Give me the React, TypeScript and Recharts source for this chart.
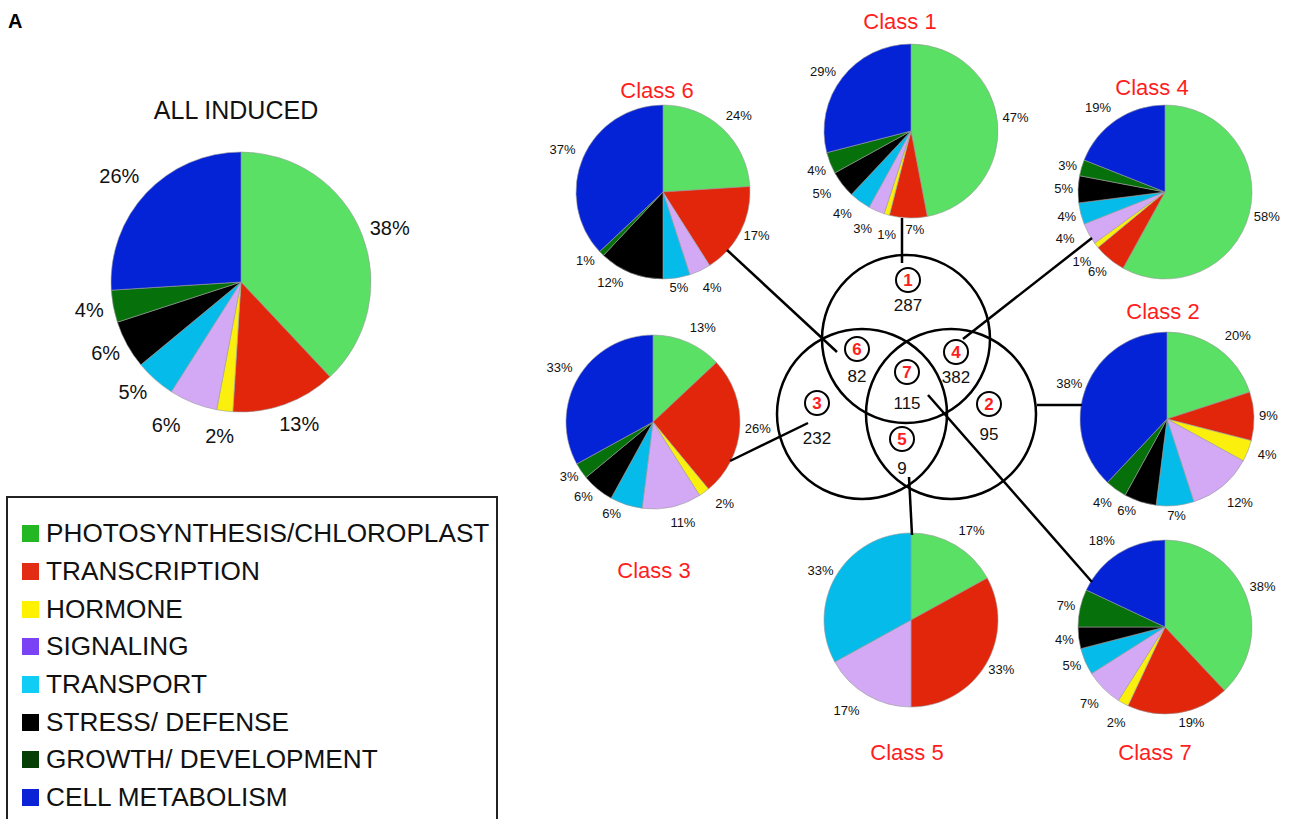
import React from "react";
import { PieChart, Pie, Cell } from "recharts";

const CATEGORIES = [
  "PHOTOSYNTHESIS/CHLOROPLAST",
  "TRANSCRIPTION",
  "HORMONE",
  "SIGNALING",
  "TRANSPORT",
  "STRESS/ DEFENSE",
  "GROWTH/ DEVELOPMENT",
  "CELL METABOLISM",
];

// pie slice fills, one per category
const SLICE_COLORS = ["#59e065", "#e1260b", "#fbef0e", "#d3a9f6", "#05bbea", "#000000", "#06700b", "#0422d6"];
// swatches in the key box
const KEY_COLORS = ["#23b723", "#e22c14", "#fff200", "#7a42f4", "#10cdf5", "#000000", "#063f06", "#0b22d6"];

// percent of genes per category
const allInduced = [38, 13, 2, 6, 5, 6, 4, 26];
const class1 = [47, 7, 1, 3, 4, 5, 4, 29];
const class2 = [20, 9, 4, 12, 7, 6, 4, 38];
const class3 = [13, 26, 2, 11, 6, 6, 3, 33];
const class4 = [58, 6, 1, 4, 4, 5, 3, 19];
const class5 = [17, 33, 0, 17, 33, 0, 0, 0];
const class6 = [24, 17, 0, 4, 5, 12, 1, 37];
const class7 = [38, 19, 2, 7, 5, 4, 7, 18];

// genes per venn region, class 1..7
const classCounts = [287, 95, 232, 382, 9, 82, 115];

const FONT = "'Liberation Sans', Arial, Helvetica, sans-serif";

// per-category label shifts, keyed by category index
type Nudge = Record<number, [number, number]>;

interface PieSpec {
  id: string;
  title: string;
  values: number[];
  cx: number;
  cy: number;
  r: number;
  titleX: number;
  titleY: number;
  nudge: Nudge;
}

const SMALL_R = 87;

const classPies: PieSpec[] = [
  {
    id: "c1", title: "Class 1", values: class1, cx: 911, cy: 131, r: SMALL_R, titleX: 900, titleY: 29,
    nudge: { 0: [0, -4], 1: [7, 2], 2: [4, 11], 3: [-8, 9], 4: [-9, 4], 5: [-9, 3], 6: [0, 4], 7: [-5, 0] },
  },
  {
    id: "c6", title: "Class 6", values: class6, cx: 663, cy: 192, r: SMALL_R, titleX: 657, titleY: 98,
    nudge: { 0: [4, -6], 3: [6, 8], 5: [-14, 1], 6: [-6, 0], 7: [-4, -4] },
  },
  {
    id: "c4", title: "Class 4", values: class4, cx: 1165, cy: 192, r: SMALL_R, titleX: 1152, titleY: 95,
    nudge: { 1: [-3, 5], 2: [-3, 10], 3: [-11, 0], 7: [-8, -5] },
  },
  {
    id: "c3", title: "Class 3", values: class3, cx: 653, cy: 422, r: SMALL_R, titleX: 654, titleY: 578,
    nudge: { 0: [8, -6], 2: [12, 3], 3: [7, 6], 4: [-10, 0], 5: [-5, 0], 7: [-3, -5] },
  },
  {
    id: "c2", title: "Class 2", values: class2, cx: 1167, cy: 419, r: SMALL_R, titleX: 1163, titleY: 319,
    nudge: { 0: [9, -5], 2: [6, 0], 3: [6, 9], 5: [-9, 0], 6: [-5, 5] },
  },
  {
    id: "c5", title: "Class 5", values: class5, cx: 911, cy: 620, r: SMALL_R, titleX: 907, titleY: 760,
    nudge: { 0: [7, -6], 3: [-11, 7] },
  },
  {
    id: "c7", title: "Class 7", values: class7, cx: 1165, cy: 627, r: SMALL_R, titleX: 1155, titleY: 760,
    nudge: { 0: [0, -5], 1: [10, 0], 2: [0, 11], 3: [-4, 8], 7: [-7, -5] },
  },
];

const toData = (values: number[]) =>
  values
    .map((value, cat) => ({ name: CATEGORIES[cat], value, cat }))
    .filter((d) => d.value > 0);

// percent label pushed just outside the rim, offset by half its own box
const makeLabel = (fontSize: number, gap: number, nudge: Nudge) => (props: any) => {
  const { cx, cy, midAngle, outerRadius, value } = props;
  if (!value) return null;
  const cat = props.cat ?? props.payload?.cat;
  const text = `${value}%`;
  const w = ((text.length - 1) * 0.556 + 0.889) * fontSize;
  const h = fontSize * 0.72;
  const rad = (-midAngle * Math.PI) / 180;
  const c = Math.cos(rad);
  const s = Math.sin(rad);
  const [dx, dy] = nudge[cat] ?? [0, 0];
  const x = cx + (outerRadius + gap + w / 2) * c + dx;
  const y = cy + (outerRadius + gap + h / 2) * s + dy;
  return (
    <text x={x} y={y} textAnchor="middle" dominantBaseline="central" fontFamily={FONT} fontSize={fontSize} fill="#111">
      {text}
    </text>
  );
};

// venn circles and the region markers
const vennCircles = [
  { x: 906, y: 339, r: 84 },
  { x: 862, y: 414, r: 85 },
  { x: 951, y: 414, r: 85 },
];
const regionMarks = [
  { x: 908, y: 280, ny: 305 },
  { x: 989, y: 404, ny: 434 },
  { x: 817, y: 403, ny: 438 },
  { x: 956, y: 352, ny: 377 },
  { x: 902, y: 439, ny: 468 },
  { x: 857, y: 349, ny: 376 },
  { x: 907, y: 372, ny: 403 },
];
const connectors = [
  [902, 218, 902, 263],
  [1037, 405, 1082, 405],
  [730, 461, 808, 423],
  [1092, 238, 963, 339],
  [909, 477, 912, 535],
  [727, 250, 837, 352],
  [928, 395, 1092, 582],
];

const W = 1292;
const H = 819;

export default function App() {
  const allData = toData(allInduced);
  return (
    <div style={{ position: "absolute", left: 0, top: 0, width: W, height: H, overflow: "hidden", background: "#fff", fontFamily: FONT }}>
      <PieChart width={W} height={H} margin={{ top: 0, right: 0, bottom: 0, left: 0 }} style={{ position: "absolute", left: 0, top: 0 }}>
        <Pie
          data={allData}
          dataKey="value"
          cx={241}
          cy={282}
          outerRadius={130}
          startAngle={90}
          endAngle={-270}
          stroke="#9a9a9a"
          strokeWidth={0.6}
          labelLine={false}
          label={makeLabel(20, 10, { 1: [4, 4], 2: [-2, 8], 3: [-18, 6], 4: [-6, 0], 7: [-5, -5] })}
          isAnimationActive={false}
        >
          {allData.map((d) => (
            <Cell key={d.cat} fill={SLICE_COLORS[d.cat]} />
          ))}
        </Pie>
        {classPies.map((p) => (
          <Pie
            key={p.id}
            data={toData(p.values)}
            dataKey="value"
            cx={p.cx}
            cy={p.cy}
            outerRadius={p.r}
            startAngle={90}
            endAngle={-270}
            stroke="#9a9a9a"
            strokeWidth={0.6}
            labelLine={false}
            label={makeLabel(13, 5, p.nudge)}
            isAnimationActive={false}
          >
            {toData(p.values).map((d) => (
              <Cell key={d.cat} fill={SLICE_COLORS[d.cat]} />
            ))}
          </Pie>
        ))}
      </PieChart>

      <svg width={W} height={H} style={{ position: "absolute", left: 0, top: 0, pointerEvents: "none" }}>
        <text x={8} y={28} fontFamily={FONT} fontWeight="bold" fontSize={20} fill="#000">A</text>
        <text x={236} y={119} textAnchor="middle" fontFamily={FONT} fontSize={25} fill="#111">ALL INDUCED</text>
        {classPies.map((p) => (
          <text key={p.id} x={p.titleX} y={p.titleY} textAnchor="middle" fontFamily={FONT} fontSize={22} fill="#ff1d1d">
            {p.title}
          </text>
        ))}
        {connectors.map(([x1, y1, x2, y2], i) => (
          <line key={i} x1={x1} y1={y1} x2={x2} y2={y2} stroke="#000" strokeWidth={2.5} />
        ))}
        {vennCircles.map((c, i) => (
          <circle key={i} cx={c.x} cy={c.y} r={c.r} fill="none" stroke="#000" strokeWidth={2.5} />
        ))}
        {regionMarks.map((m, i) => (
          <g key={i}>
            <circle cx={m.x} cy={m.y} r={12} fill="#fff" stroke="#000" strokeWidth={2} />
            <text x={m.x} y={m.y + 0.5} textAnchor="middle" dominantBaseline="central" fontFamily={FONT} fontWeight="bold" fontSize={17} fill="#ff1d1d">
              {i + 1}
            </text>
            <text x={m.x} y={m.ny} textAnchor="middle" dominantBaseline="central" fontFamily={FONT} fontSize={17} fill="#111">
              {classCounts[i]}
            </text>
          </g>
        ))}
      </svg>

      <div
        style={{
          position: "absolute",
          left: 6,
          top: 496,
          width: 492,
          height: 340,
          border: "2px solid #222",
          boxSizing: "border-box",
          paddingTop: 17,
        }}
      >
        {CATEGORIES.map((c, i) => (
          <div key={c} style={{ display: "flex", alignItems: "center", height: 37.7 }}>
            <span style={{ display: "inline-block", width: 17, height: 17, marginLeft: 14, marginRight: 7, background: KEY_COLORS[i] }} />
            <span style={{ fontSize: 26.2, color: "#111", whiteSpace: "nowrap" }}>{c}</span>
          </div>
        ))}
      </div>
    </div>
  );
}
